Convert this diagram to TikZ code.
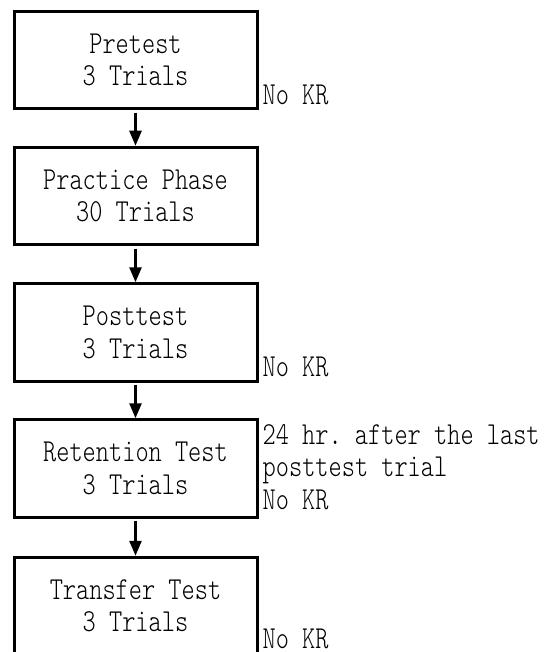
\documentclass[tikz,border=0pt]{standalone}
\usepackage{fontspec}
\setmonofont[FakeStretch=0.785]{lmmonolt10-regular.otf}
\usetikzlibrary{arrows.meta}
\begin{document}
\begin{tikzpicture}[x=1pt,y=-1pt,
  font=\ttfamily\fontsize{32}{32.5}\selectfont,
  stage/.style={draw, line width=3pt, minimum width=243pt, minimum height=97.5pt, inner sep=0pt, align=center},
  flow/.style={line width=2.5pt, -{Triangle[width=12pt,length=15pt]}, shorten <=2.5pt},
  note/.style={anchor=base west, inner sep=0pt, align=left}]
\useasboundingbox (0,0) rectangle (543,652);
\node[stage] (b1) at (135.5,60) {Pretest\\3 Trials};
\node[stage] (b2) at (135.5,196) {Practice Phase\\30 Trials};
\node[stage] (b3) at (135.5,332.5) {Posttest\\3 Trials};
\node[stage] (b4) at (135.5,468.5) {Retention Test\\3 Trials};
\node[stage] (b5) at (135.5,606) {Transfer Test\\3 Trials};
\draw[flow] (b1) -- (b2);
\draw[flow] (b2) -- (b3);
\draw[flow] (b3) -- (b4);
\draw[flow] (b4) -- (b5);
\node[note] (n1) at ([shift={(4,-6)}]b1.south east) {No KR};
\node[note] (n3) at ([shift={(4,-6)}]b3.south east) {No KR};
\node[note] (n4) at ([shift={(4,91)}]b4.north east) {24 hr. after the last\\posttest trial\\No KR};
\node[note] (n5) at ([shift={(4,-8)}]b5.south east) {No KR};
\end{tikzpicture}
\end{document}
